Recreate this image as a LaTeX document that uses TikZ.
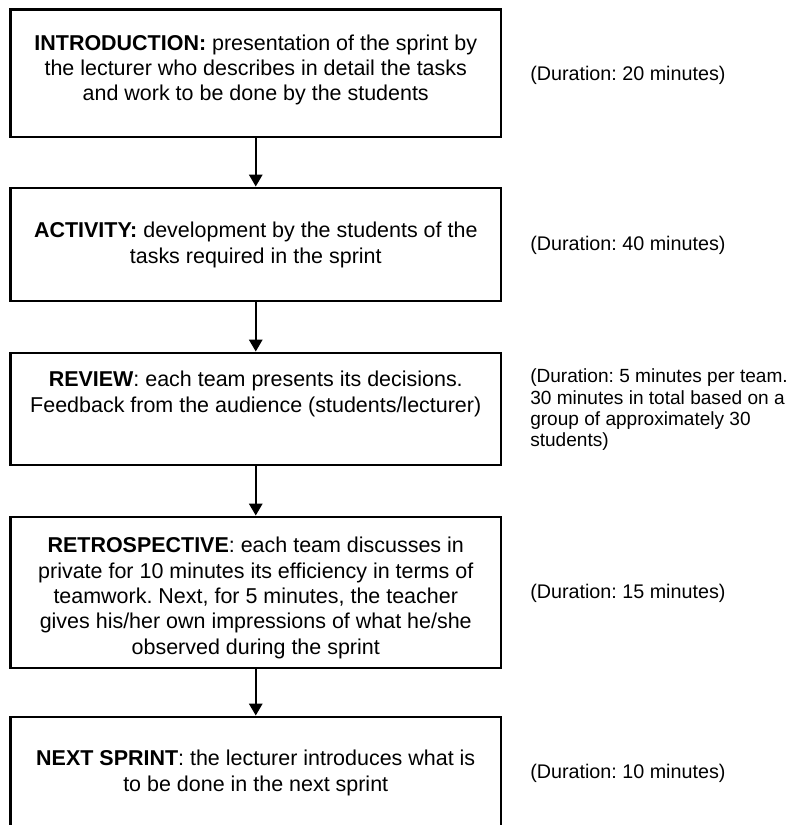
\documentclass[tikz,border=0pt]{standalone}
\usepackage{fontspec}
\setmainfont{Liberation Sans}
\frenchspacing
\usetikzlibrary{arrows.meta, positioning}

\begin{document}
\begin{tikzpicture}[x=0.75pt, y=-0.75pt,
    stage/.style={draw, line width=2.2pt, minimum width=367.9pt, inner sep=0pt},
    stagetext/.style={font=\fontsize{16.1}{19}\selectfont, align=center},
    note/.style={font=\fontsize{14.8}{16}\selectfont, align=left, anchor=west, inner sep=0pt},
    flow/.style={-{Triangle[length=9pt, width=10pt]}, line width=1.6pt},
    ]

    % page frame (last box runs off the bottom)
    \useasboundingbox (0,0) rectangle (795,825);
    \clip (0,0) rectangle (795,825);

    % stage boxes
    \node[stage, minimum height=95.6pt] (intro) at (255.75, 73.25) {};
    \node[stage, minimum height=84.75pt] (activity) at (255.75, 244.5) {};
    \node[stage, minimum height=84pt] (review) at (255.75, 409) {};
    \node[stage, minimum height=113.25pt] (retro) at (255.75, 592.5) {};
    \node[stage, minimum height=99.75pt] (next) at (255.75, 783.5) {};

    % texts inside the boxes
    \node[stagetext] (introtxt) at (255.75, 70) {\textbf{INTRODUCTION:} presentation of the sprint by\\the lecturer who describes in detail the tasks\\and work to be done by the students};
    \node[stagetext] (activitytxt) at (255.75, 245) {\textbf{ACTIVITY:} development by the students of the\\tasks required in the sprint};
    \node[stagetext] (reviewtxt) at (255.75, 394) {\textbf{REVIEW}: each team presents its decisions.\\Feedback from the audience (students/lecturer)};
    \node[stagetext] (retrotxt) at (255.75, 598) {\textbf{RETROSPECTIVE}: each team discusses in\\private for 10 minutes its efficiency in terms of\\teamwork. Next, for 5 minutes, the teacher\\gives his/her own impressions of what he/she\\observed during the sprint};
    \node[stagetext] (nexttxt) at (255.75, 773) {\textbf{NEXT SPRINT}: the lecturer introduces what is\\to be done in the next sprint};

    % durations (right)
    \node[note] (introtime) at (530, 75) {(Duration: 20 minutes)};
    \node[note] (activitytime) at (530, 245) {(Duration: 40 minutes)};
    \node[note, font=\fontsize{14.3}{16}\selectfont] (reviewtime) at (530, 410) {(Duration: 5 minutes per team.\\30 minutes in total based on a\\group of approximately 30\\students)};
    \node[note] (retrotime) at (530, 593) {(Duration: 15 minutes)};
    \node[note] (nexttime) at (530, 773) {(Duration: 10 minutes)};

    % arrows between stages
    \draw[flow] (intro) -- (activity);
    \draw[flow] (activity) -- (review);
    \draw[flow] (review) -- (retro);
    \draw[flow] (retro) -- (next);
\end{tikzpicture}
\end{document}
